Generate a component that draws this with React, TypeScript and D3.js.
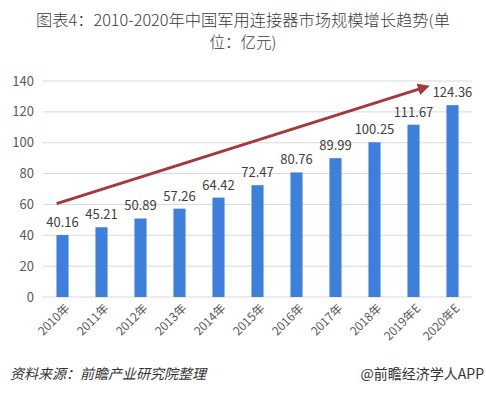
import React from 'react';
import * as d3 from 'd3';

const years = ['2010年', '2011年', '2012年', '2013年', '2014年', '2015年', '2016年', '2017年', '2018年', '2019年E', '2020年E'];
const marketSize = [40.16, 45.21, 50.89, 57.26, 64.42, 72.47, 80.76, 89.99, 100.25, 111.67, 124.36];
const yTicks = [0, 20, 40, 60, 80, 100, 120, 140];
// trend arrow, in (category index, value)
const trendStart = [-0.15, 60.5];
const trendEnd = [9.3, 136];

const W = 486;
const H = 394;
const font = '"Noto Sans CJK SC", "Microsoft YaHei", sans-serif';

export default function App() {
  const left = 43, right = 472, top = 81, bottom = 297;

  const x = d3.scaleBand<string>().domain(years).range([left, right]).paddingInner(0.69).paddingOuter(0.345);
  const y = d3.scaleLinear().domain([0, 140]).range([bottom, top]);
  const idx = d3.scaleLinear().domain([0, years.length - 1]).range([x(years[0])! + x.bandwidth() / 2, x(years[years.length - 1])! + x.bandwidth() / 2]);

  const ax1 = idx(trendStart[0]), ay1 = y(trendStart[1]);
  const ax2 = idx(trendEnd[0]), ay2 = y(trendEnd[1]);

  return (
    <svg width={W} height={H} style={{ position: 'absolute', left: 0, top: 0, background: '#fff' }} fontFamily={font}>
      <defs>
        <marker id="arrow" viewBox="0 0 10 10" refX="6" refY="5" markerWidth="4" markerHeight="4" orient="auto">
          <path d="M0,0 L10,5 L0,10 z" fill="#a5383a" />
        </marker>
      </defs>
      <text x={243} y={26} textAnchor="middle" fontSize={15.5} fontWeight={300} fill="#3a3a3a" textLength={414} lengthAdjust="spacingAndGlyphs">
        图表4：2010-2020年中国军用连接器市场规模增长趋势(单
      </text>
      <text x={243} y={48} textAnchor="middle" fontSize={15.5} fontWeight={300} fill="#3a3a3a">位：亿元)</text>

      {yTicks.map((t) => (
        <g key={t}>
          <line x1={left} x2={right} y1={y(t)} y2={y(t)} stroke="#d9d9d9" strokeWidth={1} />
          <text x={34} y={y(t)} dy="0.35em" textAnchor="end" fontSize={13} fill="#595959">{t}</text>
        </g>
      ))}

      {years.map((yr, i) => (
        <g key={yr}>
          <rect x={x(yr)} y={y(marketSize[i])} width={x.bandwidth()} height={bottom - y(marketSize[i])} fill="#3f7fdc" />
          <text x={x(yr)! + x.bandwidth() / 2} y={y(marketSize[i]) - 8} textAnchor="middle" fontSize={13} fill="#404040">
            {marketSize[i].toFixed(2)}
          </text>
          <text
            transform={`translate(${x(yr)! + x.bandwidth() / 2 + 5},${bottom + 9}) rotate(-45)`}
            textAnchor="end"
            dy="0.35em"
            fontSize={12}
            fill="#595959"
          >
            {yr}
          </text>
        </g>
      ))}

      <line x1={ax1} y1={ay1} x2={ax2} y2={ay2} stroke="#a5383a" strokeWidth={3} markerEnd="url(#arrow)" />

      <text x={10} y={379} fontSize={14} fontStyle="italic" fill="#333">资料来源：前瞻产业研究院整理</text>
      <text x={484} y={379} textAnchor="end" fontSize={14} fill="#333">@前瞻经济学人APP</text>
    </svg>
  );
}
